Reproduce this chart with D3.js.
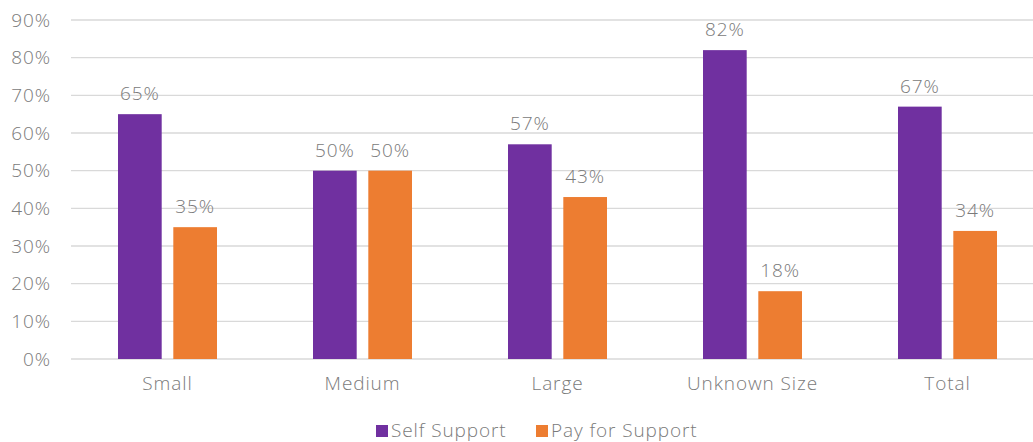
<!DOCTYPE html>
<html>
<head>
<meta charset="utf-8">
<script src="https://cdn.jsdelivr.net/npm/d3@7/dist/d3.min.js"></script>
<style>
  html, body { margin: 0; padding: 0; background: #fff; }
  svg { display: block; }
  text { font-family: "Open Sans", "Noto Sans", sans-serif; font-weight: 300; fill: #7a7a7a; letter-spacing: 0.9px; }
</style>
</head>
<body>
<svg id="chart" width="1033" height="442"></svg>
<script>
// Share of organisations by size and support type
const categories = ["Small", "Medium", "Large", "Unknown Size", "Total"];
const seriesNames = ["Self Support", "Pay for Support"];
const selfSupport = [65, 50, 57, 82, 67];
const payForSupport = [35, 50, 43, 18, 34];
const yTicks = [0, 10, 20, 30, 40, 50, 60, 70, 80, 90];
const colors = ["#7030A0", "#ED7D31"];

const seriesValues = [selfSupport, payForSupport];
const rows = categories.map((c, i) => ({
  category: c,
  values: seriesNames.map((s, j) => ({ series: s, value: seriesValues[j][i], color: colors[j] }))
}));

const svg = d3.select("#chart");

const x0 = d3.scaleBand().domain(categories).range([70, 1045]).padding(0);
const x1 = d3.scaleBand().domain(seriesNames).range([48, 147]).paddingInner(0.21).paddingOuter(0);
const y = d3.scaleLinear().domain([0, 90]).range([359, 20]);

// horizontal gridlines
svg.append("g")
  .selectAll("line")
  .data(yTicks)
  .join("line")
  .attr("x1", 71).attr("x2", 1033)
  .attr("y1", d => y(d)).attr("y2", d => y(d))
  .attr("stroke", "#d9d9d9")
  .attr("stroke-width", 1.3);

// y axis labels
const yAxis = d3.axisLeft(y).tickValues(yTicks).tickFormat(d => d + "%").tickSize(0).tickPadding(0);
const yG = svg.append("g").attr("transform", "translate(51,0)").call(yAxis);
yG.select(".domain").remove();
yG.selectAll("text")
  .style("font-size", "19px")
  .attr("fill", "#7a7a7a")
  .style("font-family", null);

// bars
const groups = svg.append("g")
  .selectAll("g")
  .data(rows)
  .join("g")
  .attr("transform", d => `translate(${x0(d.category)},0)`);

groups.selectAll("rect")
  .data(d => d.values)
  .join("rect")
  .attr("x", d => x1(d.series))
  .attr("width", x1.bandwidth())
  .attr("y", d => y(d.value))
  .attr("height", d => y(0) - y(d.value))
  .attr("fill", d => d.color);

// value labels
groups.selectAll("text.val")
  .data(d => d.values)
  .join("text")
  .attr("class", "val")
  .attr("x", d => x1(d.series) + x1.bandwidth() / 2)
  .attr("y", d => y(d.value) - 14)
  .attr("text-anchor", "middle")
  .style("font-size", "19px")
  .text(d => d.value + "%");

// category axis
const xAxis = d3.axisBottom(x0).tickSize(0).tickPadding(0);
const xG = svg.append("g").attr("transform", "translate(0,376)").call(xAxis);
xG.select(".domain").remove();
xG.selectAll("text")
  .style("font-size", "19px")
  .attr("fill", "#7a7a7a")
  .attr("dy", "0.72em")
  .style("font-family", null);

// legend
const legendItems = [
  { name: seriesNames[0], color: colors[0], x: 376 },
  { name: seriesNames[1], color: colors[1], x: 536 }
];
const legend = svg.append("g");
legend.selectAll("rect")
  .data(legendItems)
  .join("rect")
  .attr("x", d => d.x).attr("y", 425)
  .attr("width", 12).attr("height", 12)
  .attr("fill", d => d.color);
legend.selectAll("text")
  .data(legendItems)
  .join("text")
  .attr("x", d => d.x + 15).attr("y", 437)
  .style("font-size", "19px")
  .text(d => d.name);
</script>
</body>
</html>
